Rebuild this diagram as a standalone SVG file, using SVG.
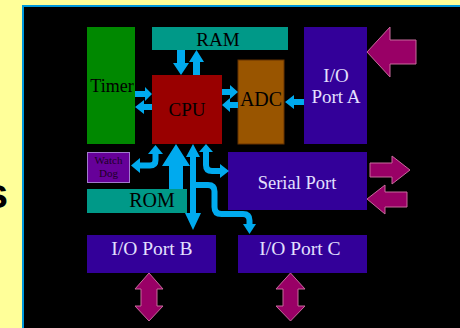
<svg xmlns="http://www.w3.org/2000/svg" width="460" height="328" viewBox="0 0 460 328">
<style>
.lbl{font-family:"Liberation Serif","DejaVu Serif",serif;text-anchor:middle}
.dark{fill:#000}
.light{fill:#e4e0ff}
.port{fill:#330099}
.mag{fill:#990066;stroke:#c86a9c;stroke-width:1}
.blue{fill:#00aaee}
.bl{fill:none;stroke:#00aaee;stroke-width:6}
</style>
<rect x="0" y="0" width="460" height="328" fill="#ffff99"/>
<text x="8" y="208" font-family="Liberation Sans,Arial,sans-serif" font-weight="bold" font-size="42" text-anchor="end" fill="#000">s</text>
<rect x="23" y="6" width="440" height="330" fill="#000" stroke="#0099dd" stroke-width="2"/>

<g id="timer"><rect x="87" y="27" width="48" height="117" fill="#008800"/><text class="lbl dark" x="112" y="92" font-size="18">Timer</text></g>
<g id="ram"><rect x="152" y="27" width="136" height="23" fill="#009988"/><text class="lbl dark" x="218" y="46" font-size="19">RAM</text></g>
<g id="portA"><rect class="port" x="304" y="27" width="63" height="117"/><text class="lbl light" x="336" y="82" font-size="19">I/O</text><text class="lbl light" x="336" y="103" font-size="19">Port A</text></g>
<g id="cpu"><rect x="152" y="75" width="70" height="69" fill="#990000"/><text class="lbl dark" x="187" y="116" font-size="19">CPU</text></g>
<g id="adc"><rect x="238" y="60" width="46" height="84" fill="#995500" stroke="#663300" stroke-width="1"/><text class="lbl dark" x="261" y="106" font-size="20">ADC</text></g>
<g id="watchdog"><rect x="87.5" y="152.5" width="42" height="30" fill="#660099" stroke="#a07acc" stroke-width="1"/><text class="lbl" fill="#1a0026" x="108.5" y="164" font-size="11">Watch</text><text class="lbl" fill="#1a0026" x="108.5" y="177" font-size="11">Dog</text></g>
<g id="serial"><rect class="port" x="228" y="152" width="139" height="58"/><text class="lbl light" x="297" y="189" font-size="18.5">Serial Port</text></g>
<g id="portB"><rect class="port" x="87" y="235" width="129" height="38"/><text class="lbl light" x="152" y="255" font-size="19.5">I/O Port B</text></g>
<g id="portC"><rect class="port" x="238" y="235" width="129" height="38"/><text class="lbl light" x="300" y="255" font-size="19.5">I/O Port C</text></g>

<g id="connectors">
<polygon class="blue" points="177,50 185,50 185,63 189,63 181,75 173,63 177,63"/>
<polygon class="blue" points="193,75 200,75 200,62 204,62 196.5,50 189,62 193,62"/>
<polygon class="blue" points="135,91 145,91 145,87 152,94 145,101 145,97 135,97"/>
<polygon class="blue" points="152,104 144,104 144,100 135,107 144,114 144,110 152,110"/>
<polygon class="blue" points="222,89 230,89 230,85 238,92 230,99 230,95 222,95"/>
<polygon class="blue" points="238,102 230,102 230,98 222,105 230,112 230,108 238,108"/>
<polygon class="blue" points="304,99 294,99 294,95 285,102 294,109 294,105 304,105"/>
<path class="bl" d="M155.5,153 V160 Q155.5,165.5 150,165.5 H139"/>
<polygon class="blue" points="148,154 163,154 155.5,145"/>
<polygon class="blue" points="140,158 140,173 131,165.5"/>
<polygon class="blue" points="176,144 190,166 183,166 183,190 169,190 169,166 162,166"/>
<polygon class="blue" points="193,144 200,157 196,157 196,213 201,213 193,230 185,213 190,213 190,157 186,157"/>
<path class="bl" d="M206,151 V165 Q206,171 212,171 H221"/>
<polygon class="blue" points="199,152 213,152 206,144"/>
<polygon class="blue" points="220,164 220,178 229,171"/>
<path class="bl" d="M195,185 H208 Q214.5,185 214.5,191.5 V207 Q214.5,214 221.5,214 H243 Q249.5,214 249.5,220.5 V226"/>
<polygon class="blue" points="243,224 256,224 249.5,234"/>
<polygon class="mag" points="367,52 390,27 390,40 416,40 416,64 390,64 390,77"/>
<polygon class="mag" points="370,163 392,163 392,156 410,170 392,184 392,177 370,177"/>
<polygon class="mag" points="367,199 385,185 385,192 407,192 407,207 385,207 385,214"/>
<polygon class="mag" points="149,273 163,289 157,289 157,306 163,306 149,321 135,306 141,306 141,289 135,289"/>
<polygon class="mag" points="290.5,273 305,289 298,289 298,306 305,306 290.5,321 276,306 283,306 283,289 276,289"/>
</g>
<g id="rom"><rect x="87" y="189" width="100" height="24" fill="#009988"/><text class="lbl dark" x="152" y="207" font-size="20">ROM</text></g>
</svg>
